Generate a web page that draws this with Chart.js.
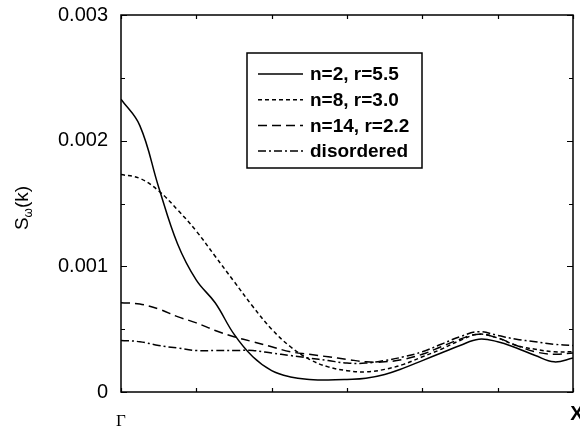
<!DOCTYPE html>
<html>
<head>
<meta charset="utf-8">
<script src="https://cdn.jsdelivr.net/npm/chart.js@4.4.1/dist/chart.umd.min.js"></script>
<style>
  html, body { margin: 0; padding: 0; background: #fff; }
  #wrap { width: 580px; height: 431px; position: relative; }
</style>
</head>
<body>
<div id="wrap"><canvas id="chart-sk"></canvas></div>
<script>
// path from Gamma to X, in segment units
const kPath = [0, 0.25, 0.5, 0.75, 1, 1.25, 1.5, 1.75, 2, 2.25, 2.5, 2.75, 3,
               3.25, 3.5, 3.75, 4, 4.25, 4.5, 4.75, 5, 5.25, 5.5, 5.75, 6];

const seriesLabels = ['n=2, r=5.5', 'n=8, r=3.0', 'n=14, r=2.2', 'disordered'];

const sN2 = [0.00233, 0.00212, 0.00163, 0.00118, 0.00089, 0.00071, 0.00046, 0.00028, 0.00017,
             0.00012, 0.00010, 0.000095, 0.00010, 0.00011, 0.00014, 0.00019, 0.00025, 0.00031,
             0.00037, 0.00042, 0.00040, 0.00035, 0.00029, 0.00024, 0.00027];
const sN8 = [0.00173, 0.00170, 0.00160, 0.00145, 0.00128, 0.00108, 0.00088, 0.00068, 0.00050,
             0.00036, 0.00026, 0.00020, 0.00017, 0.00016, 0.00018, 0.00022, 0.00028, 0.00034,
             0.00041, 0.00046, 0.00043, 0.00037, 0.00034, 0.00032, 0.00032];
const sN14 = [0.00071, 0.00070, 0.00066, 0.00060, 0.00055, 0.00049, 0.00044, 0.00040, 0.00036,
              0.00032, 0.00030, 0.00028, 0.00026, 0.00024, 0.00024, 0.00026, 0.00030, 0.00036,
              0.00042, 0.00046, 0.00043, 0.00037, 0.00032, 0.00030, 0.00031];
const sDisordered = [0.00041, 0.00040, 0.00037, 0.00035, 0.00033, 0.00033, 0.00033, 0.00033, 0.00031,
                     0.00029, 0.00027, 0.00025, 0.00023, 0.00023, 0.00025, 0.00028, 0.00032, 0.00038,
                     0.00044, 0.00048, 0.00045, 0.00042, 0.00040, 0.00038, 0.00037];

const yMajorTicks = [0, 0.001, 0.002, 0.003];
const yTickLabels = ['0', '0.001', '0.002', '0.003'];
const xTickValues = [0, 6];
const xTickLabels = ['Γ', 'X'];

const dashes = [[], [4, 3], [9, 5], [8, 3, 2, 3]];
const allSeries = [sN2, sN8, sN14, sDisordered];

function toPoints(vals) {
    return kPath.map((k, i) => ({ x: k, y: vals[i] }));
}

// border, inward ticks on all four sides, x labels, y title, boxed legend
const framePlugin = {
    id: 'frame',
    afterDraw(chart) {
        const { ctx, chartArea: a, scales } = chart;
        const xs = scales.x, ys = scales.y;
        ctx.save();
        ctx.strokeStyle = '#000';
        ctx.lineWidth = 1.5;
        ctx.strokeRect(a.left, a.top, a.right - a.left, a.bottom - a.top);

        ctx.lineWidth = 1.2;
        ctx.beginPath();
        for (let v = 0; v <= 0.003 + 1e-9; v += 0.0005) {
            const py = Math.round(ys.getPixelForValue(v)) + 0.5;
            const major = yMajorTicks.some(t => Math.abs(t - v) < 1e-9);
            const len = major ? 6 : 4;
            ctx.moveTo(a.left, py); ctx.lineTo(a.left + len, py);
            ctx.moveTo(a.right, py); ctx.lineTo(a.right - len, py);
        }
        for (let k = 0; k <= 6; k++) {
            const px = Math.round(xs.getPixelForValue(k)) + 0.5;
            ctx.moveTo(px, a.bottom); ctx.lineTo(px, a.bottom - 4);
            ctx.moveTo(px, a.top); ctx.lineTo(px, a.top + 4);
        }
        ctx.stroke();

        // x tick labels
        ctx.fillStyle = '#000';
        ctx.textAlign = 'center';
        ctx.textBaseline = 'middle';
        ctx.font = '17px "Liberation Serif", serif';
        ctx.fillText(xTickLabels[0], xs.getPixelForValue(xTickValues[0]), 422);
        ctx.font = 'bold 20px "Liberation Sans", Arial, sans-serif';
        ctx.fillText(xTickLabels[1], xs.getPixelForValue(xTickValues[1]) + 4, 414);

        // y title S_w(k)
        ctx.save();
        ctx.translate(28, 208);
        ctx.rotate(-Math.PI / 2);
        ctx.textAlign = 'left';
        ctx.textBaseline = 'alphabetic';
        const big = '19px "Liberation Sans", Arial, sans-serif';
        const small = '12px "Liberation Sans", Arial, sans-serif';
        ctx.font = big;
        const wS = ctx.measureText('S').width;
        ctx.font = small;
        const wW = ctx.measureText('ω').width;
        ctx.font = big;
        const wK = ctx.measureText('(k)').width;
        let x0 = -(wS + wW + wK) / 2;
        ctx.fillText('S', x0, 0);
        ctx.font = small;
        ctx.fillText('ω', x0 + wS, 4);
        ctx.font = big;
        ctx.fillText('(k)', x0 + wS + wW, 0);
        ctx.restore();

        // legend box
        const bx = 247, by = 53, bw = 175, bh = 115;
        ctx.lineWidth = 1.5;
        ctx.strokeRect(bx, by, bw, bh);
        ctx.font = 'bold 19px "Liberation Sans", Arial, sans-serif';
        ctx.textAlign = 'left';
        ctx.textBaseline = 'middle';
        chart.data.datasets.forEach((ds, i) => {
            const ry = 74 + i * 25.7;
            ctx.beginPath();
            ctx.setLineDash(ds.borderDash || []);
            ctx.lineWidth = ds.borderWidth;
            ctx.moveTo(258, ry); ctx.lineTo(303, ry);
            ctx.stroke();
            ctx.setLineDash([]);
            ctx.fillText(ds.label, 310, ry + 1);
        });
        ctx.restore();
    }
};

new Chart(document.getElementById('chart-sk').getContext('2d'), {
    type: 'line',
    data: {
        datasets: allSeries.map((vals, i) => ({
            label: seriesLabels[i],
            data: toPoints(vals),
            borderColor: '#000',
            borderWidth: 1.5,
            borderDash: dashes[i],
            pointRadius: 0,
            fill: false,
            tension: 0.4
        }))
    },
    options: {
        responsive: true,
        maintainAspectRatio: false,
        animation: false,
        layout: { padding: { left: 0, right: 7, top: 15, bottom: 39 } },
        scales: {
            x: {
                type: 'linear',
                min: 0,
                max: 6,
                grid: { display: false },
                border: { display: false },
                ticks: { display: false },
                afterFit: s => { s.height = 0; }
            },
            y: {
                min: 0,
                max: 0.003,
                grid: { display: false, drawTicks: false },
                border: { display: false },
                afterBuildTicks: s => { s.ticks = yMajorTicks.map(v => ({ value: v })); },
                ticks: {
                    padding: 13,
                    color: '#000',
                    font: { family: '"Liberation Sans", Arial, sans-serif', size: 20 },
                    callback: (v) => yTickLabels[yMajorTicks.findIndex(t => Math.abs(t - v) < 1e-9)]
                },
                afterFit: s => { s.width = 121; s.paddingTop = 0; s.paddingBottom = 0; }
            }
        },
        plugins: {
            legend: { display: false },
            tooltip: { enabled: false }
        }
    },
    plugins: [framePlugin]
});
</script>
</body>
</html>
